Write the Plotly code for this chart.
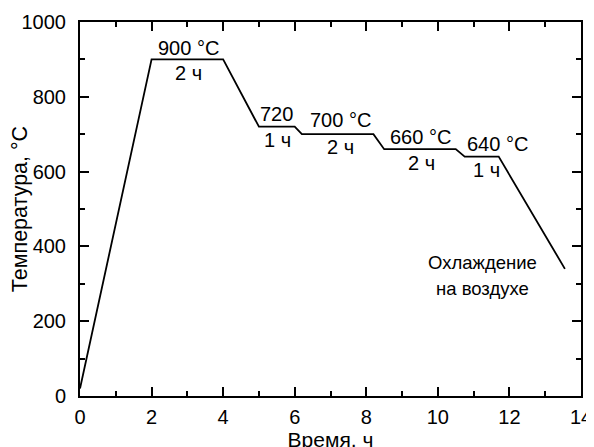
import plotly.graph_objects as go

# Heat-treatment schedule
time_h = [0, 2, 4, 5, 6, 6.2, 8.2, 8.5, 10.5, 10.75, 11.7, 13.55]
temp_c = [20, 900, 900, 720, 720, 700, 700, 660, 660, 640, 640, 340]

hold_text = ["900 °C", "2 ч", "720", "1 ч", "700 °C", "2 ч", "660 °C", "2 ч",
             "640 °C", "1 ч"]
hold_x = [3.02, 3.02, 5.49, 5.52, 7.28, 7.27, 9.52, 9.54, 11.67, 11.37]
hold_y = [931, 863, 754, 685, 737, 667, 693, 624, 673, 604]

cool_text = ["Охлаждение", "на воздухе"]
cool_x = [11.25, 11.25]
cool_y = [356, 288]

x_ticks = [0, 2, 4, 6, 8, 10, 12, 14]
y_ticks = [0, 200, 400, 600, 800, 1000]

FONT = "Liberation Sans, Arial, sans-serif"

fig = go.Figure()
fig.add_trace(go.Scatter(x=time_h, y=temp_c, mode="lines",
                         line=dict(color="black", width=1.8),
                         showlegend=False, hoverinfo="skip"))

for t, x, y in zip(hold_text, hold_x, hold_y):
    fig.add_annotation(x=x, y=y, text=t, showarrow=False,
                       xanchor="center", yanchor="middle",
                       font=dict(family=FONT, size=20, color="black"))
for t, x, y in zip(cool_text, cool_x, cool_y):
    fig.add_annotation(x=x, y=y, text=t, showarrow=False,
                       xanchor="center", yanchor="middle",
                       font=dict(family=FONT, size=18.5, color="black"))

axis_common = dict(showline=True, linecolor="black", linewidth=2,
                   mirror="ticks", ticks="inside", ticklen=9, tickwidth=1.5,
                   tickcolor="black", showgrid=False, zeroline=False,
                   automargin=False,
                   tickfont=dict(family=FONT, size=20, color="black"))

fig.update_xaxes(range=[0, 14], tickvals=x_ticks,
                 ticktext=[str(v) for v in x_ticks],
                 minor=dict(ticks="inside", ticklen=5, dtick=1, tickwidth=1.5,
                            tickcolor="black", showgrid=False),
                 title=dict(text="Время, ч", standoff=4,
                            font=dict(family=FONT, size=21, color="black")),
                 ticklabelstandoff=2,
                 **axis_common)
fig.update_yaxes(range=[0, 1000], tickvals=y_ticks,
                 ticktext=[str(v) for v in y_ticks],
                 minor=dict(ticks="inside", ticklen=5, dtick=100, tickwidth=1.5,
                            tickcolor="black", showgrid=False),
                 title=dict(text="Температура, °C", standoff=4,
                            font=dict(family=FONT, size=21.5, color="black")),
                 ticklabelstandoff=8,
                 **axis_common)

fig.update_layout(width=594, height=447,
                  margin=dict(l=72, r=21, t=14, b=59),
                  paper_bgcolor="white", plot_bgcolor="white")

fig.write_html("out.html")
